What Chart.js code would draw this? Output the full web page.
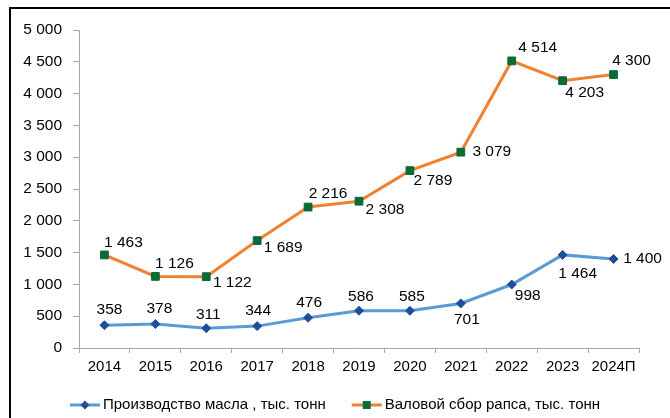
<!DOCTYPE html>
<html>
<head>
<meta charset="utf-8">
<script src="https://cdn.jsdelivr.net/npm/chart.js@4.4.1/dist/chart.umd.min.js"></script>
<style>
body { margin:0; background:#fff; }
#frame { position:absolute; left:9px; top:7px; width:720px; height:480px; border:2px solid #000; }
#wrap { position:absolute; left:0; top:0; width:670px; height:418px; }
</style>
</head>
<body>
<div id="frame"></div>
<div id="wrap"><canvas id="myChart" width="670" height="418"></canvas></div>
<script>
// chart data
var years = ['2014','2015','2016','2017','2018','2019','2020','2021','2022','2023','2024П']
var oil = [358, 378, 311, 344, 476, 586, 585, 701, 998, 1464, 1400]
var rapeseed = [1463, 1126, 1122, 1689, 2216, 2308, 2789, 3079, 4514, 4203, 4300]
var yTicks = [0, 500, 1000, 1500, 2000, 2500, 3000, 3500, 4000, 4500, 5000]

// where each value label sits, relative to its point
var oilLabelPos = [[5,-16],[4,-15],[2,-14],[1,-15],[1,-15],[2,-14],[2,-14],[6,16],[16,11],[15,19],[29,0]]
var rapeLabelPos = [[19,-12],[19,-13],[26,6],[26,7],[20,-13],[26,9],[23,10],[31,0],[26,-13],[22,12],[18,-14]]

var FONT = '"Liberation Sans", Arial, sans-serif'
var FSIZE = 15.5
var LSIZE = 15

function fmt(n) {
    return String(n).replace(/\B(?=(\d{3})+(?!\d))/g, ' ')
}

var labelPlugin = {
    id: 'valueLabels',
    afterDatasetsDraw: function(chart) {
        var ctx = chart.ctx
        var positions = [oilLabelPos, rapeLabelPos]
        ctx.save()
        ctx.font = FSIZE + 'px ' + FONT
        ctx.fillStyle = '#000'
        ctx.textAlign = 'center'
        ctx.textBaseline = 'middle'
        chart.data.datasets.forEach(function(ds, di) {
            var meta = chart.getDatasetMeta(di)
            meta.data.forEach(function(pt, i) {
                var p = positions[di][i]
                ctx.fillText(fmt(ds.data[i]), pt.x + p[0], pt.y + p[1])
            })
        })
        ctx.restore()
    }
}

// legend drawn by hand: line sample with marker, then text
var legendPlugin = {
    id: 'lineLegend',
    afterDraw: function(chart) {
        var ctx = chart.ctx
        var y = 405
        ctx.save()
        ctx.font = LSIZE + 'px ' + FONT
        var items = chart.data.datasets
        var total = 0
        items.forEach(function(ds, i) {
            total += 30 + 3 + ctx.measureText(ds.label).width
            if (i > 0) total += 26
        })
        var x = chart.width / 2 - total / 2
        items.forEach(function(ds) {
            ctx.strokeStyle = ds.borderColor
            ctx.lineWidth = 3
            ctx.beginPath(); ctx.moveTo(x, y); ctx.lineTo(x + 30, y); ctx.stroke()
            ctx.fillStyle = ds.pointBackgroundColor
            var cx = x + 15
            if (ds.pointStyle == 'rectRot') {
                ctx.beginPath(); ctx.moveTo(cx, y - 4.5); ctx.lineTo(cx + 4.5, y); ctx.lineTo(cx, y + 4.5); ctx.lineTo(cx - 4.5, y); ctx.closePath(); ctx.fill()
            } else {
                ctx.fillRect(cx - 4, y - 4, 8, 8)
            }
            ctx.fillStyle = '#000'
            ctx.textAlign = 'left'
            ctx.textBaseline = 'middle'
            ctx.fillText(ds.label, x + 33, y)
            x += 33 + ctx.measureText(ds.label).width + 26
        })
        ctx.restore()
    }
}

var ctx = document.getElementById('myChart').getContext('2d')
var myChart = new Chart(ctx, {
    type: 'line',
    data: {
        labels: years,
        datasets: [{
            label: 'Производство масла , тыс. тонн',
            data: oil,
            borderColor: '#5B9BD5',
            borderWidth: 3,
            pointStyle: 'rectRot',
            pointRadius: 4.5,
            pointBackgroundColor: '#1F4E9E',
            pointBorderColor: '#1F4E9E',
            pointBorderWidth: 1,
            tension: 0
        }, {
            label: 'Валовой сбор рапса, тыс. тонн',
            data: rapeseed,
            borderColor: '#F08133',
            borderWidth: 3,
            pointStyle: 'rect',
            pointRadius: 5.5,
            pointBackgroundColor: '#0B6B36',
            pointBorderColor: '#0B6B36',
            pointBorderWidth: 1,
            tension: 0
        }]
    },
    options: {
        responsive: false,
        animation: false,
        layout: { padding: { left: 0, right: 31, top: 30, bottom: 40 } },
        scales: {
            x: {
                offset: true,
                grid: { display: true, offset: true, drawOnChartArea: false, drawTicks: true, tickLength: 5, color: '#A6A6A6' },
                border: { display: true, color: '#A6A6A6', width: 1 },
                ticks: { color: '#000', font: { family: FONT, size: LSIZE }, padding: 5, maxRotation: 0, autoSkip: false },
                afterFit: function(s) { s.height = 30 }
            },
            y: {
                min: 0,
                max: 5000,
                afterBuildTicks: function(s) { s.ticks = yTicks.map(function(v) { return { value: v } }) },
                grid: { display: true, drawOnChartArea: false, drawTicks: true, tickLength: 6, color: '#A6A6A6' },
                border: { display: true, color: '#A6A6A6', width: 1 },
                ticks: { color: '#000', font: { family: FONT, size: FSIZE }, padding: 11, callback: function(v) { return fmt(v) } },
                afterFit: function(s) { s.width = 79 }
            }
        },
        plugins: {
            tooltip: { enabled: false },
            legend: { display: false }
        }
    },
    plugins: [labelPlugin, legendPlugin]
})
</script>
</body>
</html>
